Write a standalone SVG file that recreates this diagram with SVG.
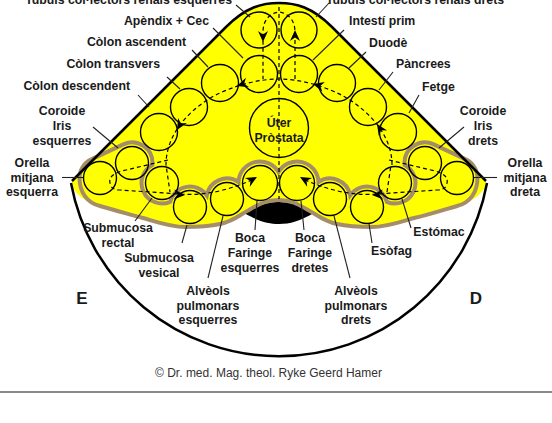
<svg xmlns="http://www.w3.org/2000/svg" width="552" height="423" viewBox="0 0 552 423">
<style>
.lbl{font-family:"Liberation Sans",Arial,sans-serif;font-weight:bold;font-size:12.3px;fill:#1a1a1a}
.c{text-anchor:middle}
.e{text-anchor:end}
.org{fill:none;stroke:#000;stroke-width:1.4}
.dash{fill:none;stroke:#000;stroke-width:1.2;stroke-dasharray:4 3}
.lead{stroke:#222;stroke-width:1.1;fill:none}
</style>
<defs>
<path id="ah" d="M0,0 L-11,-5 L-7.5,0 L-11,5 Z" fill="#000"/>
</defs>
<rect width="552" height="423" fill="#fff"/>
<g id="body">
<path d="M72,181 L226,27 C246,7 262,3 279,3 C296,3 312,7 332,27 L486,181 C486,193 472,202 457,206 C440,211 428,215 414,218 C400,222 386,227 372,227 C358,227 346,226 337,224 C323,221 316,214 308,210 C298,204 290,200 278.5,200 C267,200 259,204 249,210 C241,214 234,221 220,224 C211,226 199,227 185,227 C171,227 157,222 143,218 C129,214 117,211 100,206 C85,202 72,193 72,181 Z" fill="#ffff00"/>
<path d="M244,213 C258,205 268,202 279,202 C290,202 300,205 314,213 C300,221 290,224 279,224 C268,224 258,221 244,213 Z" fill="#000"/>
<path d="M79.5,178 A20.5,20.5 0 0 1 91.3,159.4 L123.3,144.4 A20.5,20.5 0 0 1 152.4,164.9 A20.5,20.5 0 0 0 170.2,201.8 A20.5,20.5 0 0 1 206.8,195.3 A20.5,20.5 0 0 1 238.5,182 A21.5,21.5 0 0 1 278.5,172.05 A21.5,21.5 0 0 1 318.5,182 A20.5,20.5 0 0 1 350.2,195.3 A20.5,20.5 0 0 1 386.8,201.8 A20.5,20.5 0 0 0 404.6,164.9 A20.5,20.5 0 0 1 433.7,144.4 L465.7,159.4 A20.5,20.5 0 0 1 477.5,178 C477.5,192 470,203 457,206 C440,211 428,215 414,218 C400,222 386,227 372,227 C358,227 346,226 337,224 C323,221 316,214 308,210 C298,204 290,200 278.5,200 C267,200 259,204 249,210 C241,214 234,221 220,224 C211,226 199,227 185,227 C171,227 157,222 143,218 C129,214 117,211 100,206 C87,203 79.5,192 79.5,178 Z" fill="none" stroke="#a58d6a" stroke-width="4"/>
<path d="M72,181 L226,27 C246,7 262,3 279,3 C296,3 312,7 332,27 L486,181" fill="none" stroke="#000" stroke-width="2.5" stroke-linejoin="round"/>
<path d="M71,183 A211.5,211.5 0 0 0 487,183" fill="none" stroke="#000" stroke-width="2.5"/>
</g>
<g id="connectors">
<path class="dash" d="M279,7 L279,199"/>
<path class="dash" d="M295,79 L295,32 C295,20 288,13 279,12 C270,13 263,20 263,32 L263,79"/>
<path class="dash" d="M392,165 C392,137 372,113 345,97 C325,86 300,79 279,79 C258,79 232,86 212,97 C185,113 166,137 166,165 L170,192"/>
<path class="dash" d="M387,192 L391,165"/>
<path class="dash" d="M168,160 L122,171 Q108,175 110,183 Q111,190 120,190 L180,194 C205,196 230,190 254,179"/>
<path class="dash" d="M389,160 L435,171 Q449,175 447,183 Q446,190 437,190 L377,194 C352,196 327,190 303,179"/>
<use href="#ah" transform="translate(263,42) rotate(90)"/>
<use href="#ah" transform="translate(295,30) rotate(-90)"/>
<use href="#ah" transform="translate(313,84) rotate(195)"/>
<use href="#ah" transform="translate(237,86) rotate(162)"/>
<use href="#ah" transform="translate(177,130) rotate(120)"/>
<use href="#ah" transform="translate(377,124) rotate(237)"/>
<use href="#ah" transform="translate(185,195) rotate(3)"/>
<use href="#ah" transform="translate(372,195) rotate(177)"/>
<use href="#ah" transform="translate(257,177) rotate(-29)"/>
<use href="#ah" transform="translate(300,177) rotate(209)"/>
<line class="lead" x1="236" y1="5" x2="250" y2="17"/>
<line class="lead" x1="329" y1="3" x2="316" y2="17"/>
<line class="lead" x1="213" y1="28" x2="243" y2="58"/>
<line class="lead" x1="344" y1="30" x2="313" y2="60"/>
<line class="lead" x1="192" y1="50" x2="208" y2="67"/>
<line class="lead" x1="366" y1="52" x2="349" y2="68"/>
<line class="lead" x1="167" y1="77" x2="180" y2="89"/>
<line class="lead" x1="393" y1="72" x2="379" y2="90"/>
<line class="lead" x1="138" y1="95" x2="149" y2="107"/>
<line class="lead" x1="419" y1="95" x2="409" y2="113"/>
<line class="lead" x1="93" y1="127" x2="118" y2="148"/>
<line class="lead" x1="464" y1="127" x2="439" y2="148"/>
<line class="lead" x1="62" y1="177.5" x2="83" y2="177.5"/>
<line class="lead" x1="474" y1="177.5" x2="497" y2="177.5"/>
<line class="lead" x1="135" y1="221" x2="152" y2="198"/>
<line class="lead" x1="182" y1="243" x2="187" y2="225"/>
<line class="lead" x1="208" y1="278" x2="223" y2="216"/>
<line class="lead" x1="255" y1="230" x2="257" y2="201"/>
<line class="lead" x1="304" y1="230" x2="301" y2="201"/>
<line class="lead" x1="350" y1="278" x2="334" y2="216"/>
<line class="lead" x1="372" y1="243" x2="369" y2="224"/>
<line class="lead" x1="411" y1="228" x2="402" y2="199"/>
</g>
<g id="n-tubuls-esq"><circle class="org" cx="259" cy="30" r="18"/><text class="lbl e" x="232" y="4">Tubuls col·lectors renals esquerres</text></g>
<g id="n-tubuls-dr"><circle class="org" cx="299" cy="30" r="18"/><text class="lbl" x="326" y="4">Tubuls col·lectors renals drets</text></g>
<g id="n-apendix"><circle class="org" cx="259" cy="74" r="18.5"/><text class="lbl e" x="209" y="25">Apèndix + Cec</text></g>
<g id="n-intesti"><circle class="org" cx="299" cy="74" r="18.5"/><text class="lbl" x="349" y="25">Intestí prim</text></g>
<g id="n-colon-asc"><circle class="org" cx="220" cy="83" r="18.5"/><text class="lbl e" x="186" y="46">Còlon ascendent</text></g>
<g id="n-duode"><circle class="org" cx="337" cy="83" r="18.5"/><text class="lbl" x="369" y="46.5">Duodè</text></g>
<g id="n-colon-tr"><circle class="org" cx="189" cy="107" r="18.5"/><text class="lbl e" x="160" y="68">Còlon transvers</text></g>
<g id="n-pancrees"><circle class="org" cx="368" cy="107" r="18.5"/><text class="lbl" x="396" y="68">Pàncrees</text></g>
<g id="n-colon-desc"><circle class="org" cx="159" cy="132" r="18.5"/><text class="lbl e" x="130" y="90">Còlon descendent</text></g>
<g id="n-fetge"><circle class="org" cx="398" cy="132" r="18.5"/><text class="lbl" x="422" y="90.5">Fetge</text></g>
<g id="n-uter"><circle class="org" cx="279" cy="128" r="29.5"/><text class="lbl c" x="279" y="127">Úter</text><text class="lbl c" x="279" y="142">Pròstata</text></g>
<g id="n-iris-esq"><circle class="org" cx="132" cy="163" r="16.5"/><text class="lbl c" x="62" y="115">Coroide</text><text class="lbl c" x="62" y="130">Iris</text><text class="lbl c" x="62" y="145">esquerres</text></g>
<g id="n-iris-dr"><circle class="org" cx="425" cy="163" r="16.5"/><text class="lbl c" x="483" y="115">Coroide</text><text class="lbl c" x="483" y="130">Iris</text><text class="lbl c" x="483" y="145">drets</text></g>
<g id="n-orella-esq"><circle class="org" cx="100" cy="178" r="16.5"/><text class="lbl c" x="32" y="167">Orella</text><text class="lbl c" x="32" y="182">mitjana</text><text class="lbl c" x="32" y="196">esquerra</text></g>
<g id="n-orella-dr"><circle class="org" cx="457" cy="178" r="16.5"/><text class="lbl c" x="525" y="167">Orella</text><text class="lbl c" x="525" y="182">mitjana</text><text class="lbl c" x="525" y="196">dreta</text></g>
<g id="n-rectal"><circle class="org" cx="162" cy="183" r="16.5"/><text class="lbl c" x="118" y="232">Submucosa</text><text class="lbl c" x="118" y="247">rectal</text></g>
<g id="n-estomac"><circle class="org" cx="395" cy="183" r="16.5"/><text class="lbl c" x="439" y="236">Estómac</text></g>
<g id="n-vesical"><circle class="org" cx="190" cy="207" r="16.5"/><text class="lbl c" x="159" y="262">Submucosa</text><text class="lbl c" x="159" y="277">vesical</text></g>
<g id="n-esofag"><circle class="org" cx="367" cy="207" r="16.5"/><text class="lbl c" x="391.5" y="255">Esòfag</text></g>
<g id="n-alveols-esq"><circle class="org" cx="227" cy="199" r="16.5"/><text class="lbl c" x="208" y="295">Alvèols</text><text class="lbl c" x="208" y="310">pulmonars</text><text class="lbl c" x="208" y="324">esquerres</text></g>
<g id="n-alveols-dr"><circle class="org" cx="330" cy="199" r="16.5"/><text class="lbl c" x="356" y="295">Alvèols</text><text class="lbl c" x="356" y="310">pulmonars</text><text class="lbl c" x="356" y="324">drets</text></g>
<g id="n-boca-esq"><circle class="org" cx="260" cy="183" r="17.5"/><text class="lbl c" x="250" y="242">Boca</text><text class="lbl c" x="250" y="257">Faringe</text><text class="lbl c" x="250" y="272">esquerres</text></g>
<g id="n-boca-dr"><circle class="org" cx="297" cy="183" r="17.5"/><text class="lbl c" x="310" y="242">Boca</text><text class="lbl c" x="310" y="257">Faringe</text><text class="lbl c" x="310" y="272">dretes</text></g>
<g id="sides"><text class="lbl c" x="82" y="304" style="font-size:17px">E</text><text class="lbl c" x="476" y="304" style="font-size:17px">D</text></g>
<g id="credit"><text x="268.5" y="377" text-anchor="middle" style="font-family:'Liberation Sans',Arial,sans-serif;font-size:12px;fill:#333">© Dr. med. Mag. theol. Ryke Geerd Hamer</text><line x1="0" y1="392" x2="552" y2="392" stroke="#888" stroke-width="2"/></g>
</svg>
